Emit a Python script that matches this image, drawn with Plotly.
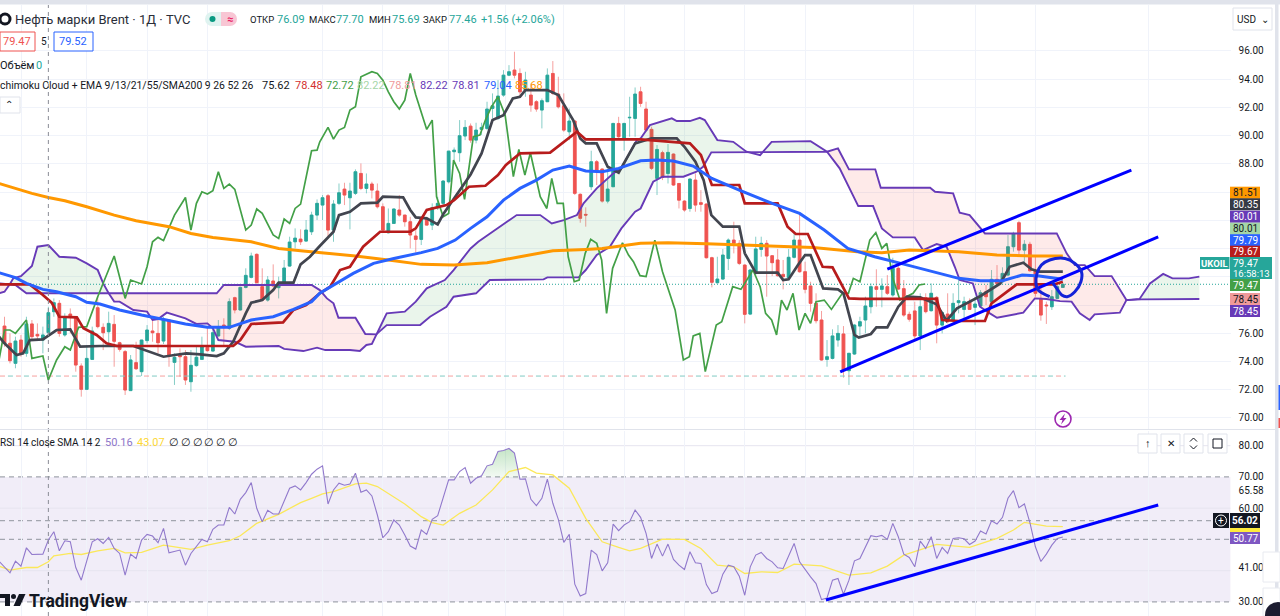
import plotly.graph_objects as go

# ---------- candles (bar number = list position) ----------
bar_open = [
76.51,75.29,73.87,75.52,74.58,76.66,75.92,75.52,76.04,77.53,
78.12,75.88,77.36,77.13,73.68,72.03,74.15,77.81,76.42,76.11,
76.63,75.33,74.70,71.94,73.92,73.28,75.48,76.16,75.99,75.45,
76.94,73.94,74.44,74.34,72.57,73.71,74.15,75.00,74.74,75.81,
76.58,76.35,78.52,77.65,79.25,79.96,81.59,79.30,78.35,79.70,
79.23,79.58,80.76,82.48,82.67,82.53,83.19,84.37,85.08,85.74,
83.31,85.20,86.21,85.60,85.91,87.32,86.26,86.57,86.07,84.96,
83.12,83.78,84.73,84.37,83.90,82.89,82.65,84.07,83.66,84.89,
85.20,86.73,88.86,88.79,89.97,90.67,89.68,90.44,90.51,91.92,
91.22,92.87,94.28,94.64,94.40,93.22,92.87,92.40,91.81,92.40,
94.40,92.94,92.11,90.27,91.03,85.84,84.42,86.38,88.15,87.63,
85.36,86.38,90.86,89.73,91.26,91.22,93.10,91.88,90.44,86.97,
88.79,87.32,88.69,86.61,85.36,84.84,86.85,85.25,85.15,81.35,
79.58,79.84,81.30,82.60,82.37,80.83,77.36,80.24,81.94,82.37,
81.49,81.19,80.17,79.94,81.38,82.60,80.36,79.35,78.12,76.94,
74.15,74.22,75.52,75.95,73.35,74.53,76.51,76.94,77.88,79.30,
79.11,79.30,78.71,80.60,79.16,77.34,77.58,75.81,78.52,77.60,
78.54,76.58,77.36,76.94,78.17,77.69,78.24,77.84,77.93,78.94,
78.24,79.82,79.65,80.12,82.13,83.83,81.89,82.30,80.43,78.47,
78.00,77.88,78.47,79.25]
bar_high = [
77.17,75.99,75.76,75.88,77.17,76.94,76.70,76.47,77.88,78.47,
78.35,77.41,77.76,77.17,73.87,75.17,76.47,78.59,76.70,77.53,
77.29,75.40,74.81,74.46,75.40,75.52,76.58,76.94,76.94,77.17,
76.99,74.58,74.93,74.81,74.81,75.05,75.76,76.51,76.35,76.94,
77.06,78.47,78.59,79.30,80.60,81.71,81.66,80.60,80.05,80.88,
80.01,81.19,82.84,83.43,83.36,84.02,84.61,85.48,85.79,85.86,
85.43,86.61,86.66,86.66,87.61,88.03,87.32,86.73,86.61,85.20,
84.84,84.84,85.79,84.37,84.25,83.31,84.25,84.25,85.20,85.67,
86.85,88.90,89.16,91.10,91.10,90.86,90.91,90.91,92.40,92.99,
93.93,94.64,94.99,95.94,94.76,94.52,93.69,92.51,92.63,94.76,
95.28,94.17,92.99,91.92,91.10,85.91,84.92,88.93,88.27,87.68,
87.68,90.91,91.33,90.91,92.75,93.41,93.46,92.40,90.63,89.33,
88.93,89.40,88.74,86.61,85.43,86.97,87.32,86.14,85.20,81.42,
81.42,81.97,82.72,83.90,82.60,80.88,80.53,82.84,82.84,82.60,
81.54,81.97,81.19,81.97,83.19,84.54,81.07,79.65,78.83,77.58,
75.52,76.28,76.58,76.51,74.58,76.66,77.17,78.59,79.53,80.53,
79.89,80.12,81.35,80.76,79.77,77.53,78.24,78.83,78.83,79.53,
78.64,77.53,78.83,78.83,79.89,78.59,78.47,78.59,79.06,79.42,
80.48,80.83,80.67,82.96,83.19,83.97,82.60,82.48,81.54,79.42,
78.24,79.06,79.65,79.52]
bar_low = [
75.05,73.87,73.52,74.34,74.34,75.52,75.52,74.58,75.76,77.17,
75.76,75.76,75.99,73.28,71.51,71.98,74.11,76.35,74.81,75.05,
73.63,74.70,71.63,71.94,73.40,72.97,75.29,75.40,74.58,75.24,
73.63,72.34,72.93,72.34,71.86,73.63,74.11,74.70,74.70,75.76,
75.05,76.23,77.41,77.60,79.18,79.89,79.53,78.35,78.24,79.30,
78.47,79.53,80.71,82.01,82.25,82.48,82.96,84.02,84.02,82.84,
82.48,85.08,85.08,83.36,85.79,86.14,85.91,85.55,84.84,83.19,
83.07,83.74,84.25,83.55,82.01,81.71,82.25,83.64,83.31,84.73,
84.96,86.61,88.27,88.15,89.68,89.49,89.45,90.04,90.39,91.22,
91.10,92.75,94.21,94.05,92.75,92.75,91.69,91.69,90.51,92.40,
92.87,91.92,90.27,89.68,85.79,83.83,83.55,86.14,86.50,85.25,
85.20,86.38,89.80,88.93,89.92,89.92,92.04,90.27,87.56,85.79,
86.85,86.61,86.43,84.84,84.61,84.61,84.61,84.61,81.30,79.25,
79.53,79.77,80.48,81.66,80.83,76.70,77.29,80.12,81.42,78.59,
80.05,80.01,79.11,79.89,81.30,80.29,78.83,77.53,76.70,74.06,
73.63,74.15,75.05,72.86,72.34,74.46,75.76,76.00,77.41,77.88,
77.84,78.71,78.59,79.06,77.17,76.82,75.52,74.81,77.41,77.53,
75.29,75.99,76.70,76.70,77.41,76.94,77.65,76.58,77.88,78.00,
78.12,79.53,79.53,80.05,81.78,81.42,80.95,80.36,78.59,76.89,
76.66,77.65,78.43,79.25]
bar_close = [
75.29,74.06,75.45,74.58,76.66,75.76,75.81,75.88,77.46,78.17,
75.99,77.13,77.13,73.75,72.03,74.22,76.16,76.47,76.04,76.70,
75.43,74.86,71.98,74.11,73.49,75.52,76.23,76.04,75.33,76.94,
74.39,74.30,74.34,72.69,73.73,74.30,75.05,74.77,76.04,76.42,
76.40,78.24,77.65,79.25,80.10,81.47,79.58,78.35,79.77,79.35,
79.58,80.62,82.46,82.74,82.48,83.31,84.37,85.20,85.60,83.31,
85.15,85.95,85.79,86.07,87.44,86.26,86.57,86.14,84.96,83.31,
83.78,84.80,84.37,83.90,82.96,82.65,84.07,83.66,84.89,85.20,
86.78,88.90,88.97,89.99,90.58,89.68,90.39,90.58,91.88,92.11,
92.80,94.28,94.52,94.28,93.10,93.93,92.16,91.88,92.47,94.28,
92.99,92.04,90.39,91.03,85.91,84.14,84.37,88.15,87.51,85.36,
86.21,90.86,89.92,90.86,91.29,92.94,92.28,90.39,87.68,89.02,
87.04,88.81,86.50,85.43,84.73,86.92,85.08,85.13,81.35,79.61,
79.84,81.54,82.60,82.37,80.95,77.34,80.48,81.97,82.37,81.47,
81.00,80.08,80.01,81.38,82.60,80.36,79.11,78.12,76.89,74.11,
74.34,75.81,75.99,73.40,74.58,76.58,76.82,77.93,79.30,79.11,
79.35,78.83,80.60,79.13,77.29,76.99,75.81,77.88,77.53,78.83,
76.58,77.46,76.82,78.12,78.31,78.24,77.69,78.07,78.87,78.59,
79.82,79.53,80.24,82.13,83.07,81.89,82.30,80.43,78.83,77.29,
77.95,78.59,79.30,79.47]
bar_no = list(range(len(bar_open)))

# ---------- indicator lines, as read (bar, value) ----------
sma200_x = [-1,2,5,8,11,15,20,24,30,34,38,45,50,54,58,64,70,76,82,88,94,100,106,109,116,121,128,140,147.5,155.5,160,165,174,181,187.6,193]
sma200_y = [86.61,86.26,85.91,85.62,85.39,84.96,84.37,83.97,83.55,83.07,82.79,82.48,82.01,81.85,81.71,81.47,81.19,80.88,80.83,80.99,81.42,81.85,81.94,82.01,82.37,82.41,82.34,82.20,82.08,81.78,81.71,81.89,81.78,81.54,81.47,81.47]

ema55_x = [-1,2,4,7,9.5,13,15,17.4,21,25,29.5,33,37,41,45,49,52.7,56,57.5,60.6,63.6,67.3,71,76,79,82.2,85,88,91,94,97,100,103,106,109,112,116,119,122,125.6,129,134,140,145,149.5,153.8,158.7,164.7,169.5,174,178,182,185.6,188.7,193]
ema55_y = [80.29,79.94,79.53,79.11,78.94,78.59,78.19,78.07,77.65,77.29,76.94,76.66,76.42,76.42,76.94,77.17,77.69,78.24,78.83,79.53,80.24,80.95,81.30,81.71,82.01,82.60,83.43,84.25,85.43,86.26,86.85,87.56,87.84,87.49,87.44,87.68,88.22,88.27,88.20,87.84,86.97,86.14,85.20,84.49,83.31,82.01,81.42,80.83,80.36,79.89,79.72,79.72,80.12,80.05,79.82]

tenkan_x = [-1,0,2.2,3.4,4.6,7,9.5,12,13.8,17.4,23.5,26.5,29,31,33.2,35.7,38.7,40,41.7,44,45,47,49,50,52.7,54,55.7,57.5,60,61,63,65,68,69,72.7,74,75,77,79,80.1,83,85,87,89,91,92.7,94,95,97,99,101,103.7,105,106,108,110,112,113,115,116,118,122.6,124,126,127.5,128.9,131,134,135,137,141,142,143,144.7,146,147,149.3,152,153,155,155.8,158,159,161,163,164.6,167,170,171.8,173.7,178,181.6,183.3,185.8,187.3,188.8,193]
tenkan_y = [75.76,75.29,74.46,74.58,75.52,75.57,76.23,76.28,75.05,75.10,75.10,74.70,74.34,74.46,74.58,74.51,74.39,74.58,75.40,77.41,78.17,78.35,79.06,79.58,79.58,80.88,81.42,82.18,83.19,84.37,84.61,85.20,85.25,85.67,85.62,84.73,84.21,84.14,83.71,84.49,86.14,87.25,88.74,91.10,91.45,92.63,92.75,93.22,93.22,93.22,92.87,91.10,89.80,89.45,89.45,87.79,87.37,88.03,89.45,89.56,89.80,89.80,89.21,88.15,86.85,84.37,83.55,83.55,81.66,80.29,80.29,79.77,79.82,80.83,81.54,81.54,79.18,79.11,78.83,75.88,75.69,75.95,76.42,76.42,77.88,78.59,78.54,78.05,76.89,77.76,78.64,79.53,80.71,81.00,80.53,80.36,80.36]

kijun_x = [-1,4.6,7,8.6,10,13.2,14.4,16.8,18.6,20.5,41.7,43,45,50.8,52.7,55,57.5,59.4,61.2,63,65.4,68.5,74,75,77,78.5,80.6,82,84.7,87.7,90,91.4,94,99.5,102,104.4,106,116,125,127,129,134,135,141,142.8,144.3,146.5,149.2,151,154,156,170,171,174,178.8,180,184.6,191.4,193]
kijun_y = [79.46,79.46,78.71,78.17,77.17,77.13,76.35,75.88,75.29,75.10,75.10,75.52,76.66,76.77,77.65,78.00,78.83,79.30,80.48,80.71,82.13,83.19,83.19,83.43,84.73,84.89,85.08,85.43,86.38,86.45,87.20,87.91,88.74,88.79,89.56,90.27,89.73,89.73,89.45,88.62,86.50,86.50,85.20,85.20,83.55,83.03,83.03,80.71,80.67,78.47,78.43,78.43,76.94,76.87,76.87,78.12,79.46,79.46,79.65]

chikou_x = [-1,0,1,2,4,5,7,8,9.5,11,12,13.5,15,17,20,22,23,25,26,27,28,29,31,33,34,35,36,37,38,39,40,41,42,44,45,46,47,49,50,51,52,53,54,55,56,57,57.5,59,60,61,62,63,64,65,67,68,69,70,71,72,73,74,75,77,78,78.8,80,81,81.9,83,83.9,85.5,86.7,87.7,88.8,90,91.3,92.8,93.8,94.9,95.9,97.7,98.9,99.8,100.8,101.9,102.8,103.9,104.8,105.9,106.9,108,108.9,109.8,110.9,112.7,113.8,114.7,115.9,117,118.6,120,122.3,123.8,124.9,125.6,126.8,127.8,129.8,130.8,132.8,134.3,136.5,137.8,138.8,139.9,140.8,141.7,142.7,143.8,144.9,146,147,148,149.5,150.8,152.8,153.9,154.8,156,157.8,158.9,160,160.9,162,163.3,165.7,166.8,167.9]
chikou_y = [74.11,76.23,76.23,75.99,76.94,74.22,74.39,72.69,74.11,75.05,74.81,76.42,76.47,78.59,81.47,78.47,79.77,79.49,80.71,82.48,82.79,82.56,84.37,85.62,83.31,85.20,86.02,85.86,86.10,87.44,86.26,86.57,86.19,83.31,83.66,84.80,84.49,82.96,82.72,84.09,83.78,84.84,85.15,86.97,88.93,88.97,89.56,90.58,89.75,90.39,90.58,91.81,92.04,94.17,94.52,94.40,93.93,93.10,92.40,91.88,92.51,94.40,92.87,90.44,91.10,85.67,84.25,84.49,88.27,87.32,85.48,89.92,90.04,91.10,92.04,92.75,91.45,87.09,89.02,87.20,88.79,85.67,84.84,86.97,85.20,85.20,81.42,79.65,79.77,81.66,82.65,82.37,81.19,77.41,80.60,82.41,81.54,81.07,80.08,80.01,82.60,80.36,77.65,74.11,74.34,75.81,75.99,73.28,76.58,76.82,79.30,79.11,80.48,79.30,77.41,76.94,75.88,78.35,77.65,78.83,76.23,77.41,76.70,78.24,78.35,77.69,78.83,78.83,79.89,79.65,82.60,83.12,82.01,82.37,79.89,78.35,78.83,79.42,79.49]

span_a_x = [-1,0,1,1.6,3,5,6,8,10,13,15,17,18,19,20,21,23.5,26,27,28,29.6,31,33,35,37,38,39,42,44,50,51,54.5,57,58.5,63,64.8,66,67,67.8,69.7,73,75,77,80.3,81.9,85,86.4,89,91.6,93.4,97.7,99.8,102,104.4,105.6,108,111,112.5,115.3,116,117.7,119.8,121.7,122.6,125,126.8,127.7,130,132.9,135.3,137.8,139.9,147,150,152.3,155.7,158.4,160,162,166,167.5,170,171.8,173.3,174.2,176.6,177.9,179.7,181,185.8,187.9,190,192.5,194.6,196.1,197.9,198.8,203.4,204.6,207,208.9,211.3,213,216,217.9]
span_a_y = [78.83,78.94,79.49,79.89,80.05,80.76,82.13,82.25,81.42,81.35,80.95,80.48,79.53,78.83,78.24,78.24,77.65,77.53,76.94,77.01,77.46,77.29,77.06,76.66,76.70,76.35,75.52,75.40,75.05,75.10,74.89,74.74,74.98,74.81,74.81,74.74,75.17,75.24,75.92,77.41,77.53,78.24,79.18,79.77,80.48,82.01,82.48,83.19,83.90,84.37,84.37,83.78,84.02,84.37,85.20,86.26,87.32,87.68,89.68,89.80,90.74,90.98,91.22,91.03,91.03,91.26,91.10,89.68,89.56,88.86,88.62,89.56,89.61,88.86,87.68,85.01,85.01,83.43,82.79,82.79,81.89,82.32,82.13,80.71,79.77,79.53,77.88,77.41,77.10,77.46,78.47,78.43,78.28,78.24,77.41,76.94,77.34,77.46,78.35,78.43,79.53,80.20,79.89,79.89,80.01]

span_b_x = [-1,1,2,4,19,38.7,40,56,57.5,58.8,60,60.9,64,65.8,67.8,69.7,75.8,77.6,80.6,81.9,86,88.5,98.3,99,104.7,106,108,110.4,112.5,115,116,117,118.3,120,123.8,126.2,127.4,128.9,150,152,154,158.8,159.8,168.8,169.7,173,174.2,176,178.8,191.9,193.7,195.2,197,198.8,201.9,204.6,207.3,217.9]
span_b_y = [79.53,79.49,79.42,78.83,78.83,78.83,79.42,79.42,79.06,78.47,78.12,77.10,77.10,75.95,75.92,76.58,76.58,77.17,77.88,78.59,78.83,79.77,79.82,79.96,79.96,80.48,81.54,82.13,83.43,84.61,84.84,85.67,86.73,87.09,87.09,87.44,87.79,88.81,88.86,89.09,87.61,87.61,86.31,86.31,86.02,85.91,84.54,84.37,83.07,83.07,81.66,80.83,80.83,80.05,80.05,78.35,78.40,78.43]

# where the cloud changes colour: (from bar, to bar, colour)
cloud_parts = [(-1,1,"red"),(1,19,"green"),(19,67.8,"red"),(67.8,150,"green"),(150,204.6,"red"),(204.6,217.9,"green")]

rsi_x = [-1,1,2,3,4,5,7,8,9,10,11,12,13,14,16,17,18,19,20,21,22,23,24,25,26,27,28,29,30,32,33,34,36,37,38,39,40,41,42,43,44,45,46,47,48,49,50,51,52,53,54,55,56,57,58,59,60,61,62,63,64,65,66,67,68,69,70,71,72,73,74,75,76,77,78,79,81,82,83,84,85,86,87,88,89,90,91,92,93,94,95,96,97,98,99,100,101,102,103,104,105,106,107,108,109,110,111,112,113,114,115,116,117,118,119,120,121,122,123,124,125,126,127,128,129,130,131,132,133,134,135,136,137,138,139,140,141,142,144,145,146,147,148,149,150,151,152,153,154,155,156,157,158,159,160,161,162,163,164,165,166,167,168,169,170,171,172,173,174,175,176,177,178,179,180,181,182,183,184,185,186,187,188,189,190,191,192,193]
rsi_y = [43.05,39.31,43.05,41.45,47.33,45.19,45.30,49.80,52.47,46.37,49.58,49.26,41.02,36.96,49.26,50.22,48.73,50.65,47.12,45.52,38.56,45.30,43.91,49.80,51.61,51.08,48.94,53.54,45.73,46.59,41.77,45.52,50.01,49.26,53.22,54.61,54.61,60.28,58.14,62.85,64.99,68.20,59.96,55.68,59.32,58.14,58.14,62.10,66.38,67.13,65.85,68.20,70.87,72.48,73.55,61.35,65.85,67.99,67.34,67.77,71.20,65.10,65.85,63.92,57.82,50.54,52.47,56.22,54.61,51.40,47.87,46.91,53.01,51.61,56.43,57.61,69.06,69.06,71.73,73.01,67.99,69.59,70.34,73.55,74.08,78.15,78.47,79.11,77.62,69.27,69.38,62.85,60.82,63.17,69.27,61.57,56.43,49.05,51.61,35.67,31.93,32.68,46.59,45.19,39.95,42.52,54.93,52.79,54.61,55.68,59.43,57.07,51.94,43.91,48.51,44.66,48.51,43.59,41.77,40.38,46.05,42.52,42.31,35.56,32.68,33.42,38.88,41.77,41.24,38.24,32.14,41.24,44.98,45.84,43.91,42.84,40.91,40.70,48.73,42.84,40.38,38.03,35.89,30.75,31.28,36.96,37.49,32.46,36.96,43.16,43.91,47.66,51.19,50.87,51.29,50.01,55.15,50.87,45.30,44.23,41.24,49.47,47.12,50.87,43.91,47.44,45.52,50.33,50.54,50.22,48.40,49.47,52.68,51.72,56.00,54.93,57.07,63.17,65.63,60.17,61.35,55.36,47.66,42.95,45.30,48.19,50.33,50.77]

rsi_ma_x = [-1,1,4,6,8,9,12,14,17,20,22,25,29,32,34,37,41,43,46,50,54,56,58,60,64,66,68,73,76,78,80,83,86,89,92,95,97,100,103,106,109,112,114,116,118,120,124,127,130,133,135,138,141,144,149,154,158,161,164,167,170,176,181,184,186,190,193]
rsi_ma_y = [41.45,40.17,41.02,41.02,42.84,44.77,45.52,45.19,46.37,47.12,45.73,45.84,48.19,47.44,46.80,48.19,49.58,51.19,55.15,58.03,61.78,63.17,64.56,65.31,67.77,67.99,66.92,61.35,57.29,55.36,54.61,58.36,61.03,65.85,71.73,73.01,71.20,70.66,66.38,56.75,49.26,47.44,46.37,47.12,48.73,50.12,50.01,47.12,41.77,41.24,39.10,39.63,39.42,42.09,41.56,38.56,39.31,41.45,44.98,46.59,48.40,47.44,50.33,53.01,55.47,54.29,54.08]

# hand drawings on the chart
trend_low_x, trend_low_y = [152.4,210.4], [73.26,82.82]
trend_high_x, trend_high_y = [161,205.5], [80.55,87.56]
trend_rsi_x, trend_rsi_y = [149.8,210.4], [30.6,61.04]
ring_x = [190.6,188.5,188.1,188.3,189.1,190.6,193.4,195.2,196.4,196.3,195.2,193.8,192.8,191.9,191]
ring_y = [78.59,79.06,79.53,80.24,80.83,81.19,81.30,80.95,80.36,79.65,78.94,78.59,78.71,79.18,79.65]

last_price = 79.47
session_level = 72.97
session_level_end = 193.5
crosshair_bar = 8
price_ticks = [70,72,74,76,78,80,82,84,86,88,90,92,94,96]
price_labels = ["70.00","72.00","74.00","76.00","","","","","","88.00","90.00","92.00","94.00","96.00"]
rsi_ticks = [30,41,60,65.58,70,80]
rsi_grid = [40,60,80]
rsi_dashed = [70,56.02,50,30]
month_bars = [3.1,15,26,37,58,69,81,91.3,102,113,124,135,146,165.7,177,188,208.7]

# ---------- page geometry ----------
W, H = 1280, 616
PLOT_R = 1230.6
X_RANGE = [-0.82, 223.6]
FONT = "Roboto"
INK = "#131722"
GRID = "#f0f3fa"
TEAL = "#26a69a"
RED = "#ef5350"
PURPLE = "#673ab7"

def px(x): return x / W
def py(y): return 1 - y / H

fig = go.Figure()

# clouds
def pick(xs, ys, lo, hi):
    pairs = [(a, b) for a, b in zip(xs, ys) if lo <= a <= hi]
    return [p[0] for p in pairs], [p[1] for p in pairs]

for lo, hi, tone in cloud_parts:
    ax, ay = pick(span_a_x, span_a_y, lo, hi)
    bx, by = pick(span_b_x, span_b_y, lo, hi)
    fig.add_trace(go.Scatter(x=ax + bx[::-1], y=ay + by[::-1], fill="toself", mode="none",
                             fillcolor="rgba(67,160,71,0.11)" if tone == "green" else "rgba(244,67,54,0.11)",
                             hoverinfo="skip", xaxis="x", yaxis="y"))

# last price and session level lines
fig.add_trace(go.Scatter(x=X_RANGE, y=[last_price]*2, mode="lines",
                         line=dict(color=TEAL, width=1, dash="1px,2px"), xaxis="x", yaxis="y"))
fig.add_trace(go.Scatter(x=[X_RANGE[0], session_level_end], y=[session_level]*2, mode="lines",
                         line=dict(color="rgba(239,83,80,0.55)", width=1, dash="5px,11px"), xaxis="x", yaxis="y"))
fig.add_trace(go.Scatter(x=[X_RANGE[0] + 1.45, session_level_end], y=[session_level]*2, mode="lines",
                         line=dict(color="#80cbc4", width=1, dash="5px,11px"), xaxis="x", yaxis="y"))

# candles: pale wicks, then solid bodies
fig.add_trace(go.Candlestick(x=bar_no, open=bar_open, high=bar_high, low=bar_low, close=bar_close,
                             increasing=dict(line=dict(color=TEAL, width=1), fillcolor=TEAL),
                             decreasing=dict(line=dict(color=RED, width=1), fillcolor=RED),
                             whiskerwidth=0, opacity=0.55, xaxis="x", yaxis="y"))
fig.add_trace(go.Candlestick(x=bar_no, open=bar_open, close=bar_close,
                             high=[max(a, b) for a, b in zip(bar_open, bar_close)],
                             low=[min(a, b) for a, b in zip(bar_open, bar_close)],
                             increasing=dict(line=dict(color=TEAL, width=0.8), fillcolor=TEAL),
                             decreasing=dict(line=dict(color=RED, width=0.8), fillcolor=RED),
                             whiskerwidth=0, xaxis="x", yaxis="y"))

def line(xs, ys, color, width, yaxis="y", shape="linear"):
    fig.add_trace(go.Scatter(x=xs, y=ys, mode="lines",
                             line=dict(color=color, width=width, shape=shape),
                             hoverinfo="skip", xaxis="x", yaxis=yaxis))

line(span_a_x, span_a_y, PURPLE, 1.9)
line(span_b_x, span_b_y, PURPLE, 1.9)
line(chikou_x, chikou_y, "#43a047", 1.7)
line(sma200_x, sma200_y, "#ff9800", 3)
line(tenkan_x, tenkan_y, "#42454f", 2.7)
line(kijun_x, kijun_y, "#b71c1c", 2.7)
line(ema55_x, ema55_y, "#2962ff", 3)
line(trend_low_x, trend_low_y, "#0000ff", 3)
line(trend_high_x, trend_high_y, "#0000ff", 3)
line(ring_x, ring_y, "#1422d8", 3, shape="spline")

# RSI pane
over_x, over_y = pick(rsi_x, rsi_y, 87, 94)
fig.add_trace(go.Scatter(x=over_x, y=over_y, fill="toself", mode="none",
                         fillgradient=dict(type="vertical",
                                           colorscale=[[0, "rgba(76,175,80,0.05)"], [1, "rgba(76,175,80,0.32)"]]),
                         hoverinfo="skip", xaxis="x", yaxis="y2"))
line(rsi_ma_x, rsi_ma_y, "#fbe85a", 1.3, yaxis="y2")
line(rsi_x, rsi_y, "#9179cc", 1.1, yaxis="y2")
line(trend_rsi_x, trend_rsi_y, "#0000ff", 3, yaxis="y2")

# ---------- shapes ----------
shapes = []
def rect(x0, y0, x1, y1, fill, border=None, layer="above", width=1):
    shapes.append(dict(type="rect", xref="paper", yref="paper", x0=px(x0), x1=px(x1), y0=py(y0), y1=py(y1),
                       fillcolor=fill, line=dict(color=border or "rgba(0,0,0,0)", width=width if border else 0),
                       layer=layer))
def circle(cx, cy, r, fill, border=None, width=1.5, layer="above"):
    shapes.append(dict(type="circle", xref="paper", yref="paper", x0=px(cx-r), x1=px(cx+r), y0=py(cy-r), y1=py(cy+r),
                       fillcolor=fill, line=dict(color=border or "rgba(0,0,0,0)", width=width if border else 0),
                       layer=layer))
def poly(points, fill):
    d = "M " + " L ".join(f"{px(x)},{py(y)}" for x, y in points) + " Z"
    shapes.append(dict(type="path", xref="paper", yref="paper", path=d, fillcolor=fill, line=dict(width=0)))
def stroke(points, color=INK, width=1):
    d = "M " + " L ".join(f"{px(x)},{py(y)}" for x, y in points)
    shapes.append(dict(type="path", xref="paper", yref="paper", path=d, line=dict(color=color, width=width)))

# RSI band and levels
shapes.append(dict(type="rect", xref="x", yref="y2", x0=X_RANGE[0], x1=X_RANGE[1], y0=30, y1=70,
                   fillcolor="rgba(126,87,194,0.11)", line=dict(width=0), layer="below"))
for v in rsi_grid:
    shapes.append(dict(type="line", xref="x", yref="y2", x0=X_RANGE[0], x1=X_RANGE[1], y0=v, y1=v,
                       line=dict(color="#e6e4ef", width=1), layer="below"))
for v in rsi_dashed:
    shapes.append(dict(type="line", xref="x", yref="y2", x0=X_RANGE[0], x1=X_RANGE[1], y0=v, y1=v,
                       line=dict(color="#a3a6af", width=1.2, dash="5px,4px"), layer="below"))
# crosshair
shapes.append(dict(type="line", xref="x", yref="paper", x0=crosshair_bar, x1=crosshair_bar, y0=0, y1=py(5),
                   line=dict(color="#8a8d96", width=1, dash="4px,4px")))
# page chrome
rect(0, 0, W, 4.5, "#e0e3eb")
rect(1275, 0, 1278.5, H, "#e0e3eb")
shapes.append(dict(type="line", xref="paper", yref="paper", x0=0, x1=px(1275), y0=py(429.5), y1=py(429.5),
                   line=dict(color="#e0e3eb", width=1)))
rect(1278.5, 385, W, 410, "#2962ff")
rect(1278.5, 418, W, 428, RED)
rect(1263, 552, W, 582, "#ffffff", "#e8eaf0")
rect(1263, 588, W, 616, "#ffffff", "#e8eaf0")
circle(1278, 615, 13, "#1c1c30")
rect(1233, 8, 1272, 30, "#ffffff", "#e0e3eb")

# header icons
circle(5, 19, 5, "#ffffff", "#131722", width=3)
circle(212, 19, 7, "#dff3f0")
circle(230, 19, 7, "#f8c6d4")
rect(212, 12, 221, 26, "#dff3f0")
rect(221, 12, 230, 26, "#f8c6d4")
circle(212.5, 19, 3, "#089981")
# legend boxes
rect(0, 32, 35, 51, "#ffffff", "#ef5350")
rect(54, 32, 93, 51, "#ffffff", "#2962ff")
rect(0, 97, 20, 113, "#ffffff", "#e0e3eb")

# right-hand price tags
tags = [(192.7,"#ff9800","81.51",INK),(204.3,"#363a45","80.35","#ffffff"),(216.7,PURPLE,"80.01","#ffffff"),
        (228.7,"#a5d6a7","80.01",INK),(240.2,"#2962ff","79.79","#ffffff"),(251.7,"#b71c1c","79.67","#ffffff"),
        (285,"#43a047","79.47","#ffffff"),(299,"#ef9a9a","78.45",INK),(311,PURPLE,"78.45","#ffffff")]
for y, fill, _, _ in tags:
    rect(1230, y-6, 1260, y+6, fill)
rect(1230, 257, 1272, 279, TEAL)
rect(1200, 257, 1229.5, 269, TEAL)
rect(1213, 513, 1229, 528, "#131722")
rect(1230, 513, 1260, 528, "#131722")
circle(1221, 520.5, 5.5, "#131722", "#ffffff", width=1)
rect(1230, 528, 1260, 532, "#ffeb3b")
rect(1230, 532, 1260, 544, "#7e57c2")

# RSI pane buttons
for x0 in (1138, 1161, 1184, 1208):
    rect(x0, 434, x0+19, 453, "#ffffff", "#e0e3eb")
rect(1213, 439, 1222, 448, "rgba(0,0,0,0)", "#131722")
stroke([(1190,441.5),(1193.5,438),(1197,441.5)])
stroke([(1190,445.5),(1193.5,449),(1197,445.5)])

# lightning badge
circle(1063, 419, 8, "#ffffff", "#9c27b0", width=1.6)
poly([(1065,413.5),(1059.5,420),(1062.5,420),(1061,424.5),(1066.5,418),(1063.5,418)], "#9c27b0")

# TradingView mark
rect(0, 594, 10, 598, "#131722")
rect(5, 594, 10, 606, "#131722")
circle(13.5, 596.5, 2.5, "#131722")
poly([(19,594),(25.5,594),(20,606),(13.5,606)], "#131722")

# ---------- annotations ----------
notes = []
def text(x, y, s, color=INK, size=11, anchor="left", bold=False):
    notes.append(dict(xref="paper", yref="paper", x=px(x), y=py(y), text=f"<b>{s}</b>" if bold else s,
                      showarrow=False, xanchor=anchor, yanchor="middle",
                      font=dict(family=FONT, size=size, color=color), borderpad=0, borderwidth=0))

text(15, 19, "Нефть марки Brent · 1Д · TVC", "#2a2e39", 13)
text(230, 19, "≈", "#e91e63", 11, "center", True)
x_pos = [250, 277, 309, 336, 369, 392, 423, 449]
ohlc_txt = ["ОТКР","76.09","МАКС","77.70","МИН","75.69","ЗАКР","77.46"]
for i, (x, s) in enumerate(zip(x_pos, ohlc_txt)):
    text(x, 19, s, TEAL if i % 2 else INK, 11 if i % 2 else 9.5)
text(481, 19, "+1.56 (+2.06%)", TEAL, 11)
text(17, 42, "79.47", "#ef5350", 11, "center")
text(44, 42, "5", INK, 10, "center")
text(73, 42, "79.52", "#2962ff", 11, "center")
text(0, 65, "Объём", INK, 11)
text(36, 65, "0", TEAL, 11)
text(0, 85, "chimoku Cloud + EMA 9/13/21/55/SMA200 9 26 52 26", INK, 10.4)
legend_vals = [(262,"75.62",INK),(295,"78.48","#d32f2f"),(326,"72.72","#43a047"),(357,"82.22","#a5d6a7"),
               (389,"78.81","#ef9a9a"),(420,"82.22",PURPLE),(452,"78.81",PURPLE),(484,"79.04","#2962ff"),(515,"85.68","#ff9800")]
for x, s, c in legend_vals:
    text(x, 85, s, c, 11)
text(9, 105, "⌃", INK, 10, "center")
text(0, 443, "RSI 14 close SMA 14 2", INK, 10)
text(105, 443, "50.16", "#8e76c9", 11)
text(137, 443, "43.07", "#fdd835", 11)
for i in range(6):
    text(169 + i*11.8, 443, "∅", INK, 11)
text(29, 601, "TradingView", "#131722", 17.5, bold=True)
text(1237, 19, "USD", INK, 10)
text(1265, 19, "⌄", INK, 10, "center")
for y, _, s, c in tags:
    text(1245, y, s, c, 10, "center")
text(1245, 263, "79.47", "#ffffff", 10, "center")
text(1251, 273.5, "16:58:13", "#ffffff", 9.5, "center")
text(1214.5, 263, "UKOIL", "#ffffff", 9.5, "center", True)
text(1245, 520.5, "56.02", "#ffffff", 10, "center", True)
text(1245, 538, "50.77", "#ffffff", 10, "center")
text(1221, 520.5, "+", "#ffffff", 10, "center")
text(1147.5, 443.5, "↑", INK, 11, "center")
text(1170.5, 443.5, "✕", INK, 10, "center")

axis_font = dict(family=FONT, size=10, color=INK)
fig.update_layout(
    width=W, height=H, autosize=False, margin=dict(l=0, r=0, t=0, b=0),
    paper_bgcolor="#ffffff", plot_bgcolor="#ffffff", showlegend=False, hovermode=False,
    shapes=shapes, annotations=notes,
    xaxis=dict(domain=[0, PLOT_R / W], range=X_RANGE, anchor="y2", showticklabels=False, ticks="",
               tickvals=month_bars, showgrid=True, gridcolor=GRID, gridwidth=1, zeroline=False,
               showline=False, rangeslider=dict(visible=False)),
    yaxis=dict(domain=[py(429), py(5)], range=[69.22, 99.25], side="right", anchor="x",
               tickvals=price_ticks, ticktext=price_labels, tickfont=axis_font,
               showgrid=True, gridcolor=GRID, zeroline=False, ticks="outside", ticklen=5,
               tickcolor="rgba(0,0,0,0)", showline=False),
    yaxis2=dict(domain=[0, py(431)], range=[25.5, 84.7], side="right", anchor="x",
                tickvals=rsi_ticks, ticktext=[f"{v:.2f}" for v in rsi_ticks], tickfont=axis_font,
                showgrid=False, zeroline=False, ticks="outside", ticklen=5,
                tickcolor="rgba(0,0,0,0)", showline=False),
)

fig.write_html("out.html", config=dict(displayModeBar=False),
               post_script="document.body.style.margin='0';document.documentElement.style.overflow='hidden';")
